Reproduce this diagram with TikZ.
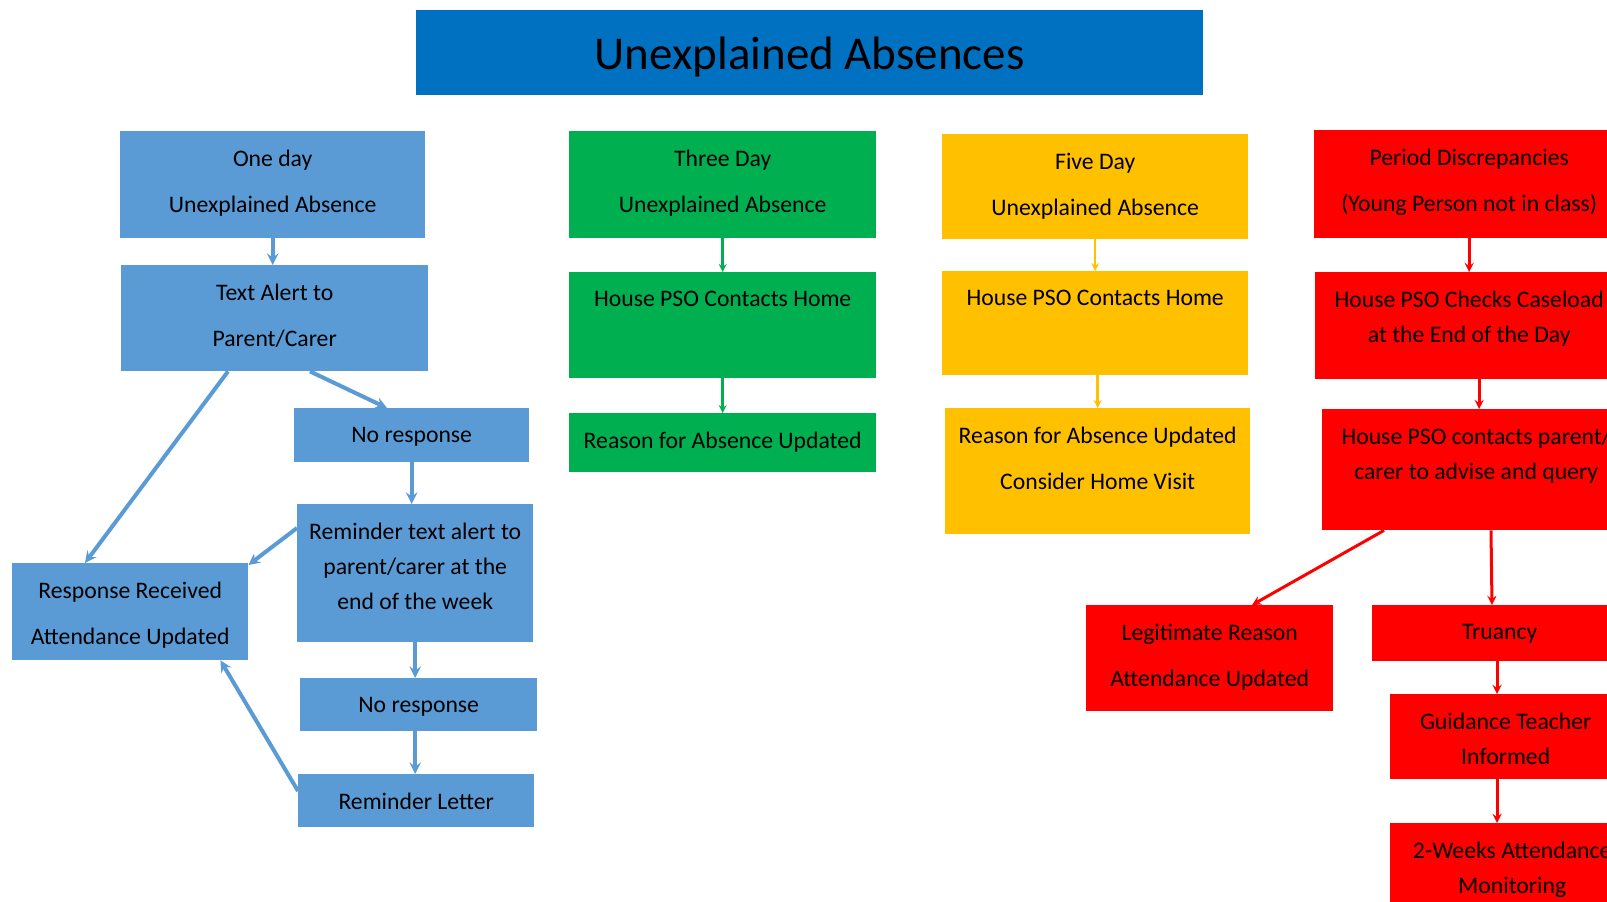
\documentclass[tikz,border=0pt]{standalone}
\usepackage{fontspec}
\setmainfont{Carlito}
\definecolor{bluebox}{HTML}{5B9BD5}
\definecolor{greenbox}{HTML}{00B050}
\definecolor{yellowbox}{HTML}{FFC000}
\definecolor{redbox}{HTML}{FF0000}
\definecolor{titlebox}{HTML}{0070C0}
\begin{document}
\begin{tikzpicture}[x=1pt,y=-1pt,>=stealth,box/.style={rectangle,anchor=north west,inner sep=0pt},lbl/.style={anchor=north,align=center,inner sep=0pt,yshift=-19pt,font=\fontsize{23.7}{46}\selectfont},lbls/.style={lbl,font=\fontsize{23.7}{35}\selectfont},bline/.style={->,line width=4pt,draw=bluebox},gline/.style={->,line width=2.5pt,draw=greenbox},yline/.style={->,line width=2.5pt,draw=yellowbox},rline/.style={->,line width=3pt,draw=redbox}]
\useasboundingbox (0,0) rectangle (1607,902);
\clip (0,0) rectangle (1607,902);
\node[box,fill=titlebox,minimum width=787pt,minimum height=85pt,text depth=0pt,font=\fontsize{47}{56}\selectfont] (title) at (416,10) {Unexplained Absences};
% one day
\node[box,fill=bluebox,minimum width=305pt,minimum height=107pt,label={[lbl]north:{One day\\Unexplained Absence}}] (one) at (120,131) {};
\node[box,fill=bluebox,minimum width=307pt,minimum height=106pt,label={[lbl]north:{Text Alert to\\Parent/Carer}}] (alert) at (121,265) {};
\node[box,fill=bluebox,minimum width=235pt,minimum height=54pt,label={[lbl]north:No response}] (noresp1) at (294,408) {};
\node[box,fill=bluebox,minimum width=236pt,minimum height=138pt,label={[lbls]north:{Reminder text alert to\\parent/carer at the\\end of the week}}] (remind) at (297,504) {};
\node[box,fill=bluebox,minimum width=236pt,minimum height=97pt,label={[lbl]north:{Response Received\\Attendance Updated}}] (resp) at (12,563) {};
\node[box,fill=bluebox,minimum width=237pt,minimum height=53pt,label={[lbl]north:No response}] (noresp2) at (300,678) {};
\node[box,fill=bluebox,minimum width=236pt,minimum height=53pt,label={[lbl]north:Reminder Letter}] (letter) at (298,774) {};
% three day
\node[box,fill=greenbox,minimum width=307pt,minimum height=107pt,label={[lbl]north:{Three Day\\Unexplained Absence}}] (three) at (569,131) {};
\node[box,fill=greenbox,minimum width=307pt,minimum height=106pt,label={[lbl]north:House PSO Contacts Home}] (gpso) at (569,272) {};
\node[box,fill=greenbox,minimum width=307pt,minimum height=59pt,label={[lbl]north:Reason for Absence Updated}] (greason) at (569,413) {};
% five day
\node[box,fill=yellowbox,minimum width=306pt,minimum height=105pt,label={[lbl]north:{Five Day\\Unexplained Absence}}] (five) at (942,134) {};
\node[box,fill=yellowbox,minimum width=306pt,minimum height=104pt,label={[lbl]north:House PSO Contacts Home}] (ypso) at (942,271) {};
\node[box,fill=yellowbox,minimum width=305pt,minimum height=126pt,label={[lbl]north:{Reason for Absence Updated\\Consider Home Visit}}] (yreason) at (945,408) {};
% period discrepancies
\node[box,fill=redbox,minimum width=310pt,minimum height=108pt,label={[lbl]north:{Period Discrepancies\\(Young Person not in class)}}] (period) at (1314,130) {};
\node[box,fill=redbox,minimum width=308pt,minimum height=107pt,label={[lbls]north:{House PSO Checks Caseload\\at the End of the Day}}] (checks) at (1315,272) {};
\node[box,fill=redbox,minimum width=308pt,minimum height=121pt,label={[lbls]north:{House PSO contacts parent/\\carer to advise and query}}] (contacts) at (1322,409) {};
\node[box,fill=redbox,minimum width=247pt,minimum height=106pt,label={[lbl]north:{Legitimate Reason\\Attendance Updated}}] (legit) at (1086,605) {};
\node[box,fill=redbox,minimum width=255pt,minimum height=56pt,label={[lbl]north:Truancy}] (truancy) at (1372,605) {};
\node[box,fill=redbox,minimum width=231pt,minimum height=85pt,label={[lbls]north:{Guidance Teacher\\Informed}}] (guidance) at (1390,694) {};
\node[box,fill=redbox,minimum width=244pt,minimum height=100pt,label={[lbls]north:{2-Weeks Attendance\\Monitoring}}] (weeks) at (1390,823) {};
% arrows
\draw[bline] (one.south) -- (one.south |- alert.north);
\draw[bline] ([xshift=107pt]alert.south west) -- ([xshift=73pt]resp.north west);
\draw[bline] ([xshift=189pt]alert.south west) -- ([xshift=93pt]noresp1.north west);
\draw[bline] (noresp1.south) -- (noresp1.south |- remind.north);
\draw[bline] ([yshift=-24pt]remind.north west) -- ([yshift=-2pt]resp.north east);
\draw[bline] (remind.south) -- (remind.south |- noresp2.north);
\draw[bline] (noresp2.south -| remind.south) -- (remind.south |- letter.north);
\draw[bline] ([yshift=-17pt]letter.north west) -- ([xshift=-28pt]resp.south east);
\draw[gline] (three.south) -- (three.south |- gpso.north);
\draw[gline] (gpso.south) -- (gpso.south |- greason.north);
\draw[yline] (five.south) -- (five.south |- ypso.north);
\draw[yline] (yreason.north |- ypso.south) -- (yreason.north);
\draw[rline] (period.south) -- (period.south |- checks.north);
\draw[rline] ([xshift=3pt]contacts.north |- checks.south) -- ([xshift=3pt]contacts.north);
\draw[rline] ([xshift=62pt]contacts.south west) -- ([xshift=166pt]legit.north west);
\draw[rline] ([xshift=169pt]contacts.south west) -- ([xshift=120pt]truancy.north west);
\draw[rline] ([xshift=125pt]truancy.south west) -- ([xshift=107pt]guidance.north west);
\draw[rline] ([xshift=107pt]guidance.south west) -- ([xshift=107pt]weeks.north west);
\end{tikzpicture}
\end{document}
